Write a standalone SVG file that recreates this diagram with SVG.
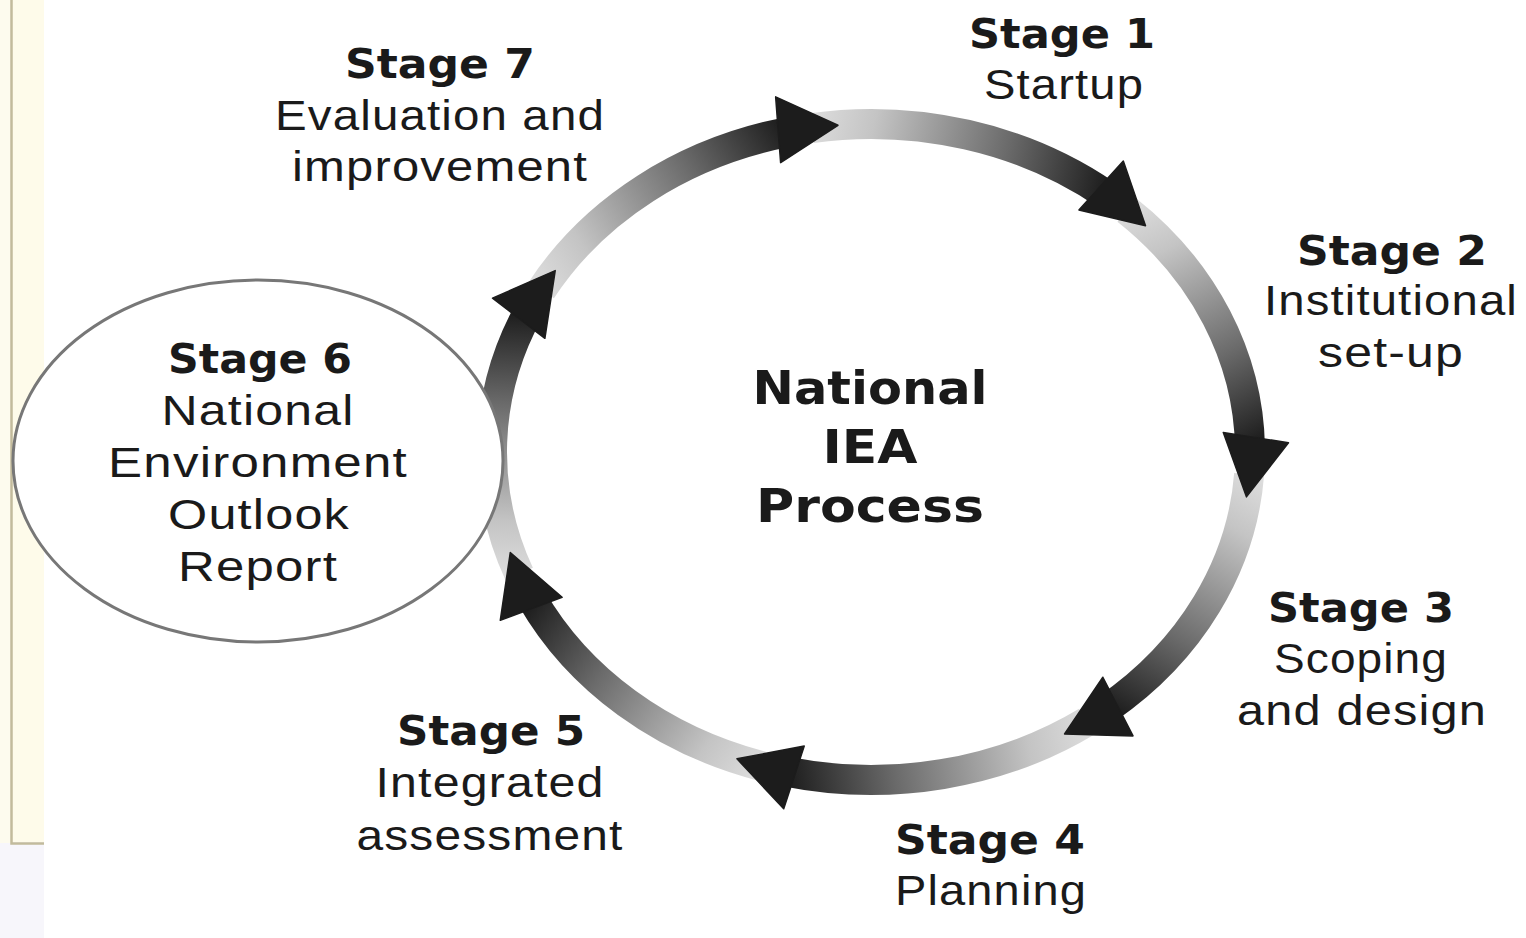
<svg xmlns="http://www.w3.org/2000/svg" xmlns:xlink="http://www.w3.org/1999/xlink" width="1526" height="938" viewBox="0 0 1526 938">
  <style>
    .head { font-family: "DejaVu Sans", "Liberation Sans", sans-serif; font-weight: bold; font-size: 41px; fill: #1a1a1a; text-anchor: middle; }
    .body { font-family: "Liberation Sans", Arial, sans-serif; font-size: 42px; fill: #1a1a1a; text-anchor: middle; letter-spacing: 1px; }
    .core { font-family: "DejaVu Sans", "Liberation Sans", sans-serif; font-weight: bold; font-size: 47px; fill: #1a1a1a; text-anchor: middle; }
    .band { fill: none; stroke-width: 30; stroke-linecap: butt; }
    .tip { fill: #1c1c1c; stroke: #1c1c1c; stroke-width: 1.5; stroke-linejoin: round; }
  </style>
  <defs>
    <linearGradient id="shade">
      <stop offset="0" stop-color="#dcdcdc"/>
      <stop offset="0.2" stop-color="#c4c4c4"/>
      <stop offset="0.65" stop-color="#6a6a6a"/>
      <stop offset="1" stop-color="#1c1c1c"/>
    </linearGradient>
    <linearGradient id="g1" href="#shade" gradientUnits="userSpaceOnUse" x1="541.35" y1="290.13" x2="788.51" y2="131.86"/>
    <linearGradient id="g2" href="#shade" gradientUnits="userSpaceOnUse" x1="811.71" y1="128.04" x2="1106.00" y2="194.66"/>
    <linearGradient id="g3" href="#shade" gradientUnits="userSpaceOnUse" x1="1126.71" y1="209.90" x2="1249.96" y2="447.13"/>
    <linearGradient id="g4" href="#shade" gradientUnits="userSpaceOnUse" x1="1249.14" y1="474.08" x2="1107.09" y2="708.59"/>
    <linearGradient id="g5" href="#shade" gradientUnits="userSpaceOnUse" x1="1086.82" y1="721.63" x2="785.55" y2="771.55"/>
    <linearGradient id="g6" href="#shade" gradientUnits="userSpaceOnUse" x1="762.03" y1="766.15" x2="531.70" y2="598.15"/>
    <linearGradient id="g7" href="#shade" gradientUnits="userSpaceOnUse" x1="519.25" y1="574.13" x2="528.21" y2="312.08"/>
  </defs>

  <!-- page background and left panel frame -->
  <rect x="0" y="0" width="1526" height="938" fill="#ffffff"/>
  <rect x="0" y="0" width="44" height="938" fill="#f7f6fb"/>
  <rect x="0" y="0" width="11" height="843" fill="#fdfbee"/>
  <rect x="12" y="0" width="32" height="842" fill="#fefbea"/>
  <path d="M11.5 0 V843.5 H44" fill="none" stroke="#c2bb9c" stroke-width="2.5"/>

  <!-- cycle ring: seven shaded arcs, each ending in an arrowhead -->
  <g id="connectors">
    <path class="band" stroke="url(#g1)" d="M541.35 290.13 A379 328 0 0 1 788.51 131.86"/>
    <path class="band" stroke="url(#g2)" d="M811.71 128.04 A379 328 0 0 1 1106.00 194.66"/>
    <path class="band" stroke="url(#g3)" d="M1126.71 209.90 A379 328 0 0 1 1249.96 447.13"/>
    <path class="band" stroke="url(#g4)" d="M1249.14 474.08 A379 328 0 0 1 1107.09 708.59"/>
    <path class="band" stroke="url(#g5)" d="M1086.82 721.63 A379 328 0 0 1 785.55 771.55"/>
    <path class="band" stroke="url(#g6)" d="M762.03 766.15 A379 328 0 0 1 531.70 598.15"/>
    <path class="band" stroke="url(#g7)" d="M519.25 574.13 A379 328 0 0 1 528.21 312.08"/>

    <polygon class="tip" points="837.97,125.25 780.63,162.69 775.65,96.87"/>
    <polygon class="tip" points="1145.51,225.84 1078.92,209.90 1123.32,161.06"/>
    <polygon class="tip" points="1246.44,496.85 1223.30,432.40 1288.48,442.80"/>
    <polygon class="tip" points="1064.57,734.01 1102.84,677.23 1133.02,735.93"/>
    <polygon class="tip" points="736.95,758.81 804.23,746.11 783.71,808.83"/>
    <polygon class="tip" points="510.27,552.60 562.12,597.32 500.28,620.34"/>
    <polygon class="tip" points="555.22,270.62 544.89,338.31 492.51,298.15"/>
  </g>

  <!-- centre title -->
  <g id="center">
    <text class="core" x="870" y="404" textLength="235" lengthAdjust="spacingAndGlyphs">National</text>
    <text class="core" x="870" y="463" textLength="95" lengthAdjust="spacingAndGlyphs">IEA</text>
    <text class="core" x="870" y="522" textLength="228" lengthAdjust="spacingAndGlyphs">Process</text>
  </g>

  <g id="stage1">
    <text class="head" x="1062" y="48" textLength="186" lengthAdjust="spacingAndGlyphs">Stage 1</text>
    <text class="body" x="1064" y="99" textLength="160" lengthAdjust="spacingAndGlyphs">Startup</text>
  </g>

  <g id="stage2">
    <text class="head" x="1392" y="265" textLength="190" lengthAdjust="spacingAndGlyphs">Stage 2</text>
    <text class="body" x="1391" y="315" textLength="254" lengthAdjust="spacingAndGlyphs">Institutional</text>
    <text class="body" x="1391" y="367" textLength="146" lengthAdjust="spacingAndGlyphs">set-up</text>
  </g>

  <g id="stage3">
    <text class="head" x="1361" y="622" textLength="186" lengthAdjust="spacingAndGlyphs">Stage 3</text>
    <text class="body" x="1361" y="673" textLength="174" lengthAdjust="spacingAndGlyphs">Scoping</text>
    <text class="body" x="1362" y="725" textLength="250" lengthAdjust="spacingAndGlyphs">and design</text>
  </g>

  <g id="stage4">
    <text class="head" x="990" y="854" textLength="190" lengthAdjust="spacingAndGlyphs">Stage 4</text>
    <text class="body" x="991" y="905" textLength="192" lengthAdjust="spacingAndGlyphs">Planning</text>
  </g>

  <g id="stage5">
    <text class="head" x="491" y="745" textLength="188" lengthAdjust="spacingAndGlyphs">Stage 5</text>
    <text class="body" x="490" y="797" textLength="229" lengthAdjust="spacingAndGlyphs">Integrated</text>
    <text class="body" x="490" y="850" textLength="267" lengthAdjust="spacingAndGlyphs">assessment</text>
  </g>

  <g id="stage6">
    <ellipse cx="258" cy="461" rx="245" ry="181" fill="#ffffff" stroke="#777777" stroke-width="3"/>
    <text class="head" x="260" y="373" textLength="184" lengthAdjust="spacingAndGlyphs">Stage 6</text>
    <text class="body" x="258" y="425" textLength="193" lengthAdjust="spacingAndGlyphs">National</text>
    <text class="body" x="258" y="477" textLength="300" lengthAdjust="spacingAndGlyphs">Environment</text>
    <text class="body" x="259" y="529" textLength="182" lengthAdjust="spacingAndGlyphs">Outlook</text>
    <text class="body" x="258" y="581" textLength="160" lengthAdjust="spacingAndGlyphs">Report</text>
  </g>

  <g id="stage7">
    <text class="head" x="440" y="78" textLength="190" lengthAdjust="spacingAndGlyphs">Stage 7</text>
    <text class="body" x="440" y="130" textLength="330" lengthAdjust="spacingAndGlyphs">Evaluation and</text>
    <text class="body" x="440" y="181" textLength="296" lengthAdjust="spacingAndGlyphs">improvement</text>
  </g>
</svg>
